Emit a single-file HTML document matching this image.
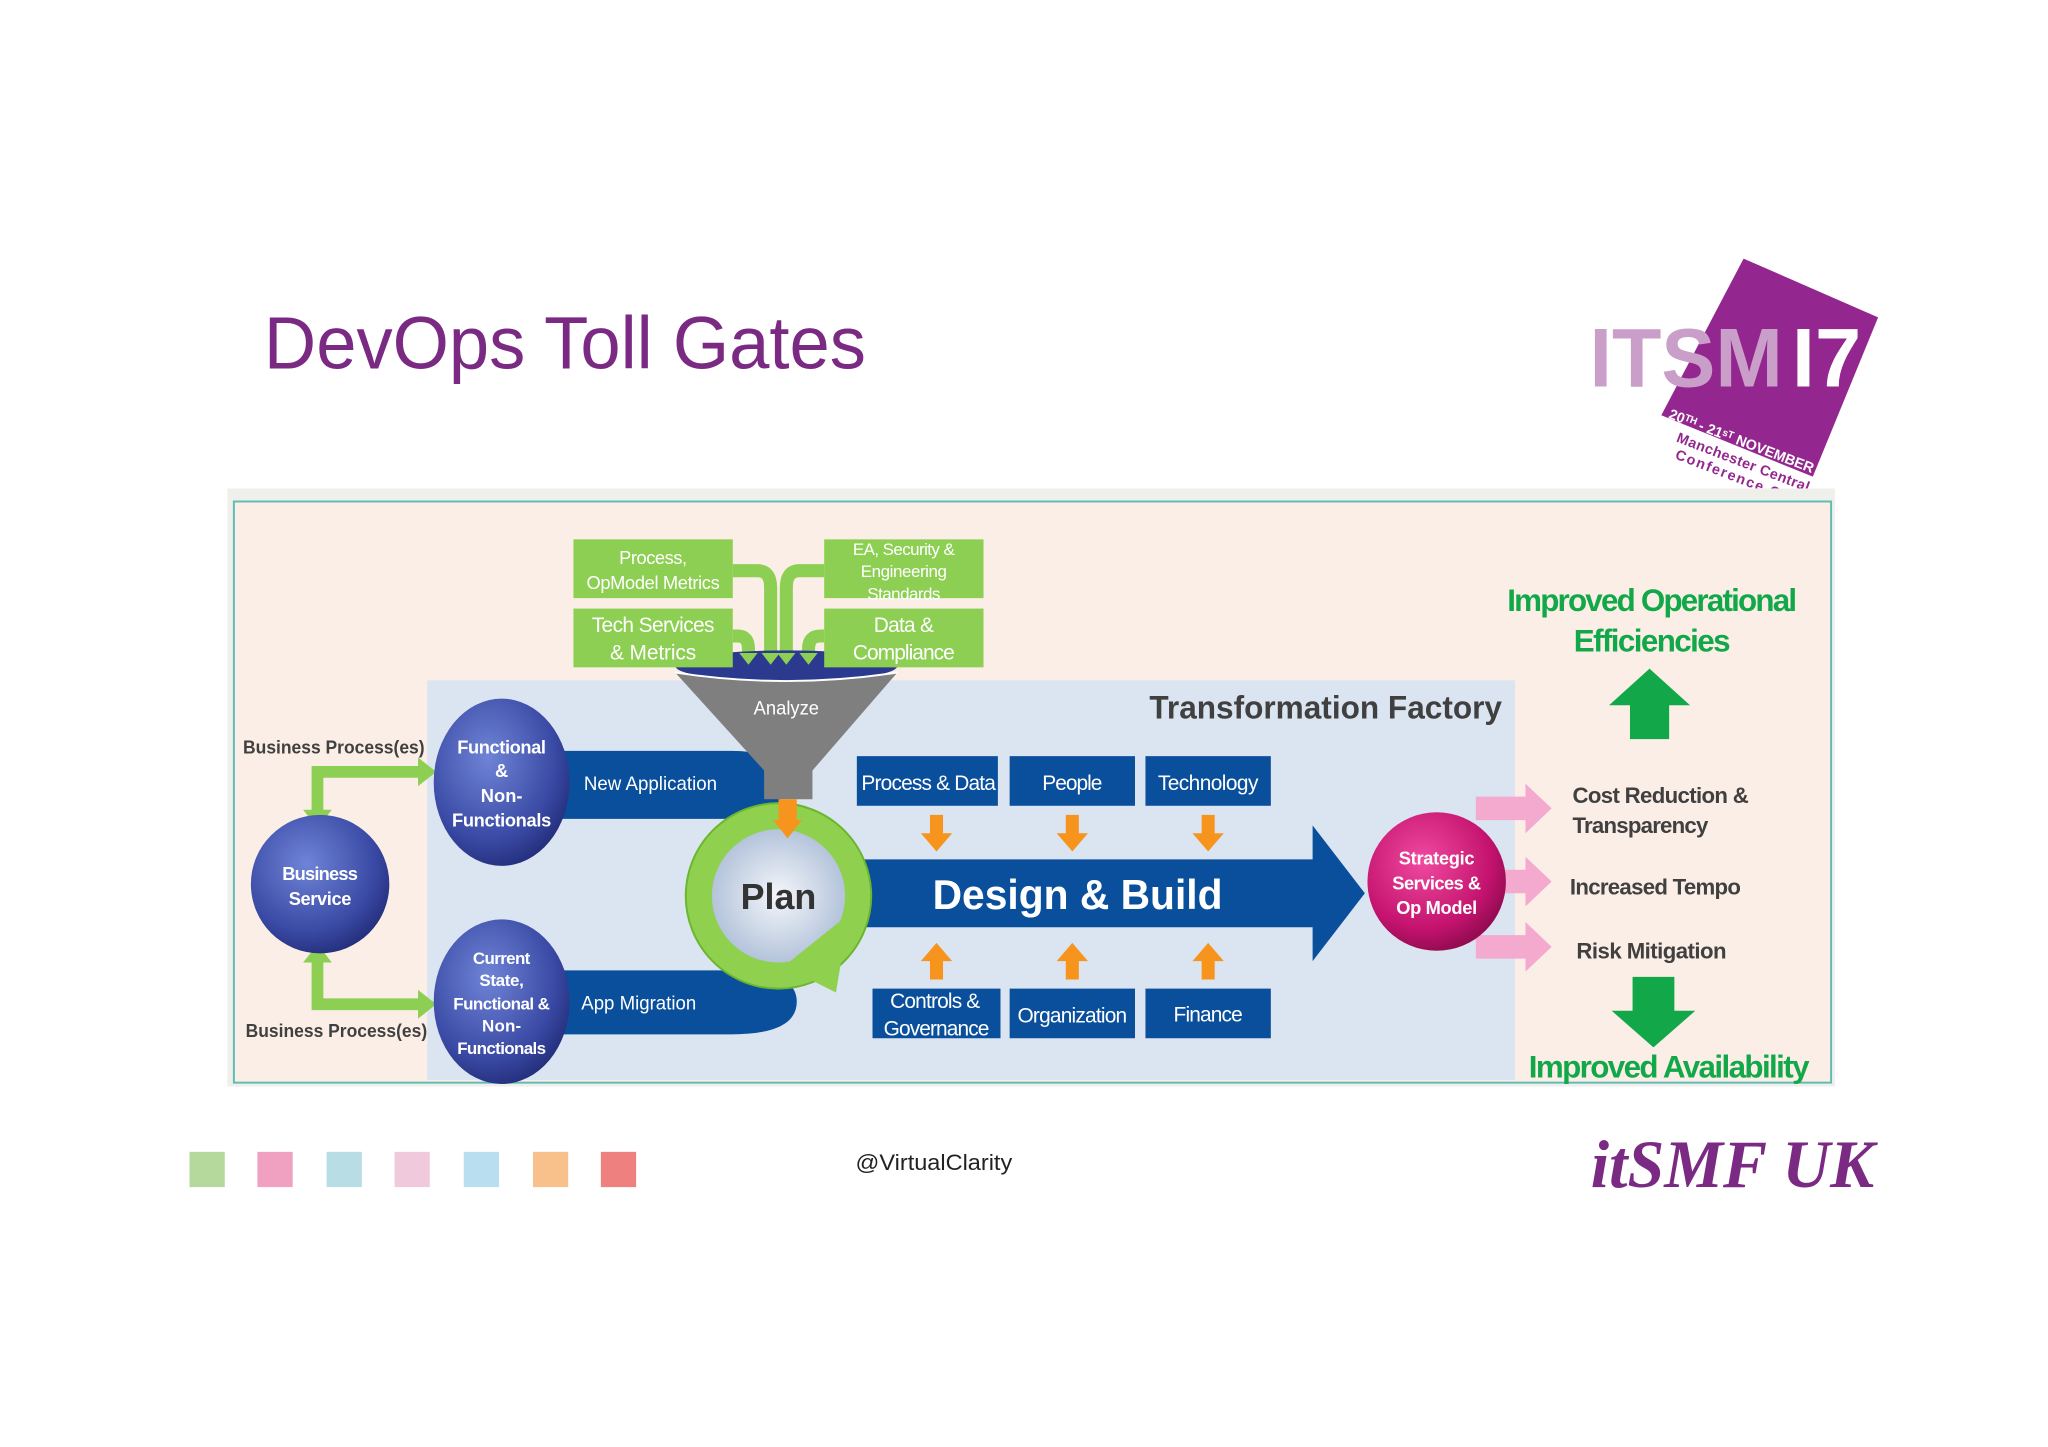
<!DOCTYPE html>
<html><head><meta charset="utf-8"><style>
html,body{margin:0;padding:0;background:#fff;}
svg{display:block;font-family:"Liberation Sans",sans-serif;}
</style></head><body>
<svg width="2048" height="1447" viewBox="0 0 1568 1108" xmlns="http://www.w3.org/2000/svg">
<defs>
<radialGradient id="bc" cx="40%" cy="35%" r="70%"><stop offset="0" stop-color="#6f84d6"/><stop offset="0.7" stop-color="#3a4aa5"/><stop offset="1" stop-color="#222c78"/></radialGradient>
<radialGradient id="mc" cx="40%" cy="35%" r="70%"><stop offset="0" stop-color="#f04aa0"/><stop offset="0.7" stop-color="#c4136e"/><stop offset="1" stop-color="#8a0a4c"/></radialGradient>
<radialGradient id="pc" cx="50%" cy="50%" r="50%"><stop offset="0" stop-color="#f4f6fa"/><stop offset="1" stop-color="#aebfd8"/></radialGradient>
</defs>
<rect width="1568" height="1108" fill="#fff"/>
<text x="202" y="282" font-size="57" fill="#7b2a83" textLength="461" lengthAdjust="spacingAndGlyphs">DevOps Toll Gates</text>
<!-- logo -->
<polygon points="1335,198 1438,243 1388,365 1272,318" fill="#93278f"/>
<text x="1217" y="296" font-size="64" font-weight="bold" fill="#c99ec9" textLength="148" lengthAdjust="spacingAndGlyphs">ITSM</text>
<text x="1372" y="296" font-size="64" font-weight="bold" fill="#fff" textLength="53" lengthAdjust="spacingAndGlyphs">I7</text>
<g font-weight="bold" font-size="11" lengthAdjust="spacingAndGlyphs">
<text x="1277" y="320" fill="#fff" textLength="118" transform="rotate(21 1277 320)">20ᵀᴴ - 21ˢᵀ NOVEMBER</text>
<text x="1283" y="338" fill="#93278f" textLength="108" transform="rotate(21 1283 338)">Manchester Central</text>
<text x="1282" y="351" fill="#93278f" textLength="100" transform="rotate(21 1282 351)">Conference Cen</text></g>
<!-- frame -->
<rect x="174" y="374" width="1231" height="458" fill="#efefeb"/>
<rect x="179" y="384" width="1223" height="445" fill="#fbeee6" stroke="#5fbcb4" stroke-width="1.5"/>
<rect x="327" y="521" width="833" height="306" fill="#dbe5f1"/>
<text x="880" y="550" font-size="25" fill="#404040" font-weight="bold" textLength="270" lengthAdjust="spacingAndGlyphs">Transformation Factory</text>
<!-- bands -->
<path d="M420 575 H560 Q600 575 600 601 Q600 627 560 627 H420 Z" fill="#0a4f9c"/>
<path d="M420 743 H560 Q610 743 610 767 Q610 792 560 792 H420 Z" fill="#0a4f9c"/>
<text x="447" y="605" font-size="15" fill="#fff" textLength="102" lengthAdjust="spacingAndGlyphs">New Application</text>
<text x="445" y="773" font-size="15" fill="#fff" textLength="88" lengthAdjust="spacingAndGlyphs">App Migration</text>
<!-- green connectors -->
<g fill="none" stroke="#8dcf53" stroke-width="10">
<path d="M561 437 H580 Q590 437 590 450 V505"/><path d="M631 437 H612 Q602 437 602 450 V505"/>
<path d="M561 487 H565 Q573 487 573 497 V505"/><path d="M631 487 H628 Q619 487 619 497 V505"/>
</g>
<!-- funnel -->
<ellipse cx="602" cy="510" rx="85" ry="12" fill="#2b3a8f"/>
<path d="M517 515 Q602 528 687 515 L622 590 V612 H585 V590 Z" fill="#7f7f7f"/>
<path d="M517 515 Q602 528 687 515" fill="none" stroke="#fff" stroke-width="1.5"/>
<text x="602" y="547" font-size="15" fill="#fff" text-anchor="middle" textLength="50" lengthAdjust="spacingAndGlyphs">Analyze</text>
<g fill="#8dcf53"><path d="M566 500 h14 l-7 9z"/><path d="M583 500 h14 l-7 9z"/><path d="M595 500 h14 l-7 9z"/><path d="M612 500 h14 l-7 9z"/></g>
<g fill="#8dcf53"><rect x="439" y="413" width="122" height="45"/><rect x="439" y="466" width="122" height="45"/><rect x="631" y="413" width="122" height="45"/><rect x="631" y="466" width="122" height="45"/></g>
<g fill="#fff" font-size="14" text-anchor="middle" lengthAdjust="spacingAndGlyphs">
<text x="500" y="432" textLength="52">Process,</text><text x="500" y="451" textLength="102">OpModel Metrics</text>
<text x="500" y="484" font-size="16" textLength="94">Tech Services</text><text x="500" y="505" font-size="16" textLength="66">&amp; Metrics</text>
<text x="692" y="425" font-size="13" textLength="78">EA, Security &amp;</text><text x="692" y="442" font-size="13" textLength="66">Engineering</text><text x="692" y="459" font-size="13" textLength="56">Standards</text>
<text x="692" y="484" font-size="16" textLength="46">Data &amp;</text><text x="692" y="505" font-size="16" textLength="78">Compliance</text>
</g>
<!-- big arrow -->
<path d="M650 658 H1005 V632 L1045 684 L1005 736 V710 H650 Z" fill="#0a4f9c"/>
<text x="825" y="696" font-size="32" font-weight="bold" fill="#fff" text-anchor="middle" textLength="222" lengthAdjust="spacingAndGlyphs">Design &amp; Build</text>
<!-- plan ring -->
<circle cx="596" cy="686" r="56" fill="url(#pc)"/>
<circle cx="596" cy="686" r="61" fill="none" stroke="#8fd14f" stroke-width="20"/>
<circle cx="596" cy="686" r="71" fill="none" stroke="#6bb52f" stroke-width="1.5"/>
<path d="M600 740 L650 700 L640 760 Z" fill="#8fd14f"/>
<text x="596" y="696" font-size="28" font-weight="bold" fill="#333" text-anchor="middle" textLength="58" lengthAdjust="spacingAndGlyphs">Plan</text>
<rect x="596" y="612" width="14" height="20" fill="#f7941d"/><path d="M592 628 h22 l-11 14z" fill="#f7941d"/>
<!-- small boxes -->
<g fill="#0a4f9c"><rect x="656" y="579" width="108" height="38"/><rect x="773" y="579" width="96" height="38"/><rect x="877" y="579" width="96" height="38"/>
<rect x="668" y="757" width="98" height="38"/><rect x="773" y="757" width="96" height="38"/><rect x="877" y="757" width="96" height="38"/></g>
<g fill="#fff" font-size="16" text-anchor="middle" lengthAdjust="spacingAndGlyphs">
<text x="711" y="605" textLength="103">Process &amp; Data</text><text x="821" y="605" textLength="46">People</text><text x="925" y="605" textLength="77">Technology</text>
<text x="716" y="772" textLength="69">Controls &amp;</text><text x="717" y="793" textLength="81">Governance</text><text x="821" y="783" textLength="84">Organization</text><text x="925" y="782" textLength="53">Finance</text></g>
<g fill="#f7941d">
<path d="M712 624 h10 v14 h7 l-12 14 l-12 -14 h7z"/><path d="M816 624 h10 v14 h7 l-12 14 l-12 -14 h7z"/><path d="M920 624 h10 v14 h7 l-12 14 l-12 -14 h7z"/>
<path d="M712 750 h10 v-14 h7 l-12 -14 l-12 14 h7z"/><path d="M816 750 h10 v-14 h7 l-12 -14 l-12 14 h7z"/><path d="M920 750 h10 v-14 h7 l-12 -14 l-12 14 h7z"/></g>
<!-- left -->
<g fill="none" stroke="#8dcf53" stroke-width="9"><path d="M243 625 V591 H322"/><path d="M243 732 V769 H322"/></g>
<g fill="#8dcf53"><path d="M232 620 h22 l-11 14z"/><path d="M232 737 h22 l-11 -14z"/><path d="M320 580 v22 l14 -11z"/><path d="M320 758 v22 l14 -11z"/></g>
<circle cx="245" cy="677" r="53" fill="url(#bc)"/>
<ellipse cx="384" cy="599" rx="52" ry="64" fill="url(#bc)"/>
<ellipse cx="384" cy="767" rx="52" ry="63" fill="url(#bc)"/>
<g fill="#fff" font-size="14" font-weight="bold" text-anchor="middle" lengthAdjust="spacingAndGlyphs">
<text x="245" y="674" textLength="58">Business</text><text x="245" y="693" textLength="48">Service</text>
<text x="384" y="577" textLength="68">Functional</text><text x="384" y="595">&amp;</text><text x="384" y="614" textLength="32">Non-</text><text x="384" y="633" textLength="76">Functionals</text>
<text x="384" y="738" font-size="13" textLength="44">Current</text><text x="384" y="755" font-size="13" textLength="34">State,</text><text x="384" y="773" font-size="13" textLength="74">Functional &amp;</text><text x="384" y="790" font-size="13" textLength="30">Non-</text><text x="384" y="807" font-size="13" textLength="68">Functionals</text></g>
<text x="186" y="577" font-size="14" font-weight="bold" fill="#404040" textLength="139" lengthAdjust="spacingAndGlyphs">Business Process(es)</text>
<text x="188" y="794" font-size="14" font-weight="bold" fill="#404040" textLength="139" lengthAdjust="spacingAndGlyphs">Business Process(es)</text>
<!-- right -->
<g fill="#f4a9cf"><path d="M1130 610 h38 v-10 l20 19 l-20 19 v-10 h-38z"/><path d="M1130 666 h38 v-10 l20 19 l-20 19 v-10 h-38z"/><path d="M1130 716 h38 v-10 l20 19 l-20 19 v-10 h-38z"/></g>
<circle cx="1100" cy="675" r="53" fill="url(#mc)"/>
<g fill="#fff" font-size="14" font-weight="bold" text-anchor="middle" lengthAdjust="spacingAndGlyphs"><text x="1100" y="662" textLength="58">Strategic</text><text x="1100" y="681" textLength="68">Services &amp;</text><text x="1100" y="700" textLength="62">Op Model</text></g>
<g fill="#404040" font-size="17" font-weight="bold" lengthAdjust="spacingAndGlyphs"><text x="1204" y="615" textLength="135">Cost Reduction &amp;</text><text x="1204" y="638" textLength="104">Transparency</text><text x="1202" y="685" textLength="131">Increased Tempo</text><text x="1207" y="734" textLength="115">Risk Mitigation</text></g>
<g fill="#12a84a" font-size="24" font-weight="bold" text-anchor="middle" lengthAdjust="spacingAndGlyphs"><text x="1265" y="468" textLength="222">Improved Operational</text><text x="1265" y="499" textLength="120">Efficiencies</text><text x="1278" y="825" textLength="215">Improved Availability</text></g>
<path d="M1232 540 L1263 512 L1294 540 H1278 V566 H1248 V540 Z" fill="#12a84a"/>
<path d="M1250 748 H1282 V774 H1298 L1266 802 L1234 774 H1250 Z" fill="#12a84a"/>
<!-- footer -->
<g><rect x="145" y="882" width="27" height="27" fill="#b5d99c"/><rect x="197" y="882" width="27" height="27" fill="#f0a0c0"/><rect x="250" y="882" width="27" height="27" fill="#b8dde5"/><rect x="302" y="882" width="27" height="27" fill="#f0c9dc"/><rect x="355" y="882" width="27" height="27" fill="#b9def0"/><rect x="408" y="882" width="27" height="27" fill="#f8c08a"/><rect x="460" y="882" width="27" height="27" fill="#ef8080"/></g>
<text x="715" y="896" font-size="17" fill="#222" text-anchor="middle" textLength="120" lengthAdjust="spacingAndGlyphs">@VirtualClarity</text>
<text x="1218" y="909" font-family="Liberation Serif,serif" font-size="52" font-style="italic" font-weight="bold" fill="#7b2a83" textLength="217" lengthAdjust="spacingAndGlyphs">itSMF UK</text>
</svg>
</body></html>
